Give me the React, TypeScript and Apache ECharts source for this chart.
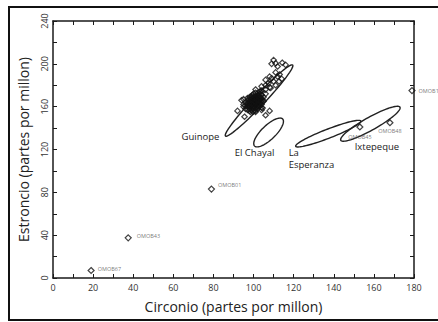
import React, { useEffect, useRef } from "react";
import * as echarts from "echarts";

const xTicks = [0, 20, 40, 60, 80, 100, 120, 140, 160, 180];
const yTicks = [0, 40, 80, 120, 160, 200, 240];

// Guinope cluster samples [circonio, estroncio]
const clusterPoints: number[][] = [
  [97, 160], [98, 162], [99, 161], [100, 163], [101, 162], [99, 165], [100, 166], [101, 165],
  [102, 167], [98, 164], [97, 163], [100, 160], [101, 159], [102, 161], [103, 163], [103, 166],
  [102, 164], [99, 168], [100, 169], [101, 170], [102, 171], [103, 169], [104, 168], [104, 171],
  [100, 158], [99, 157], [98, 158], [96, 161], [97, 166], [98, 167], [101, 167], [102, 158],
  [103, 160], [104, 162], [105, 165], [100, 172], [101, 173], [103, 174], [99, 170], [98, 169],
  [96, 164], [95, 162], [102, 169], [104, 165], [105, 169], [106, 172], [100, 164], [101, 161],
  [99, 163], [103, 172], [97, 168], [96, 158], [98, 156], [101, 156], [104, 159],
  [98.5, 160.5], [99.5, 159.5], [100.5, 161.5], [101.5, 163.5], [102.5, 165.5], [99.5, 166.5],
  [100.5, 167.5], [101.5, 168.5], [102.5, 170], [103.5, 167.5], [98.5, 165.5], [97.5, 161.5],
  [100, 162], [101, 164], [102, 166], [103, 168], [100.5, 165], [99, 162.5], [101.5, 160],
  [102.5, 162.5], [103.5, 164.5], [104.5, 166.5], [98, 160], [97.5, 164.5], [99.5, 171],
  [94, 166], [95, 167], [95, 160], [97, 157], [98.5, 155], [99.7, 155.3], [101, 155], [104, 157],
  [104.5, 158.7], [95.5, 150.6], [92, 156], [106, 152], [108, 156], [104, 175], [106, 176],
  [108, 178], [101, 176], [103.5, 174], [106, 180], [104, 179], [107.5, 182], [110, 183.5],
  [112.7, 183.5], [111, 180], [108.5, 177.5], [109, 186.5], [108, 188], [112, 188], [110, 203.5],
  [109, 200], [111, 200.5], [114.3, 201], [116, 199], [112, 197.5], [113, 190], [114, 186],
  [106, 185], [111, 192],
];

// Labeled samples
const sampleNames = ["OMOB67", "OMOB43", "OMOB01", "OMOB1", "OMOB45", "OMOB48"];
const sampleZr = [19, 37.5, 79, 179, 153, 168];
const sampleSr = [7, 37.5, 83, 175, 141, 145];

// Source ellipses: major axis end points (data) and minor/major ratio
const sourceNames = ["Guinope", "El Chayal", "La\nEsperanza", "Ixtepeque"];
const ellipseX1 = [86, 100.5, 121, 143.5];
const ellipseY1 = [132.6, 123.3, 123, 128.6];
const ellipseX2 = [119.5, 114.5, 153.5, 173];
const ellipseY2 = [198.9, 148.5, 146.6, 159.5];
const ellipseRatio = [0.11, 0.36, 0.13, 0.19];
// Label anchors (data)
const labelX = [73.5, 100.5, 117.5, 161.5];
const labelY = [131.8, 117, 111.2, 122.4];

const FONT = "'Open Sans', 'Noto Sans', sans-serif";

export default function App() {
  const ref = useRef<HTMLDivElement>(null);
  useEffect(() => {
    if (!ref.current) return;
    const chart = echarts.init(ref.current, undefined, { renderer: "svg" });

    const labelPos: Record<string, any> = {
      OMOB67: { position: "right", offset: [0, -2] },
      OMOB43: { position: "right", offset: [2, -2] },
      OMOB01: { position: "right", offset: [0, -4] },
      OMOB1: { position: "right", offset: [0, 0] },
      OMOB45: { position: "bottom", offset: [0, 0] },
      OMOB48: { position: "bottom", offset: [0, -1] },
    };

    const sampleData = sampleNames.map((n, i) => ({
      name: n,
      value: [sampleZr[i], sampleSr[i]],
      label: labelPos[n],
    }));

    const ellipseData = sourceNames.map((n, i) => [
      ellipseX1[i], ellipseY1[i], ellipseX2[i], ellipseY2[i], ellipseRatio[i],
    ]);
    const textData = sourceNames.map((n, i) => ({ name: n, value: [labelX[i], labelY[i]] }));

    const axisLine = { show: true, onZero: false, lineStyle: { color: "#1a1a1a", width: 1.5 } };
    const tickStyle = { color: "#1a1a1a", width: 1 };

    const option: any = {
      animation: false,
      backgroundColor: "#fff",
      grid: { left: 53, top: 21, right: 24, bottom: 44, containLabel: false },
      xAxis: [
        {
          type: "value",
          min: 0,
          max: 180,
          interval: 20,
          position: "bottom",
          name: "Circonio (partes por millon)",
          nameLocation: "middle",
          nameGap: 21,
          nameTextStyle: { fontSize: 14, color: "#222", fontFamily: FONT },
          axisLine,
          axisTick: { show: true, inside: true, length: 4, lineStyle: tickStyle },
          minorTick: { show: true, splitNumber: 2, length: 4, lineStyle: tickStyle },
          axisLabel: {
            margin: 5,
            fontSize: 9,
            color: "#333",
            fontFamily: FONT,
            formatter: (v: number) => (xTicks.includes(v) ? String(v) : ""),
          },
          splitLine: { show: false },
        },
        {
          type: "value",
          min: 0,
          max: 180,
          interval: 20,
          position: "top",
          axisLine,
          axisTick: { show: true, inside: true, length: 4, lineStyle: tickStyle },
          minorTick: { show: true, splitNumber: 2, length: 4, lineStyle: tickStyle },
          axisLabel: { show: false },
          splitLine: { show: false },
        },
      ],
      yAxis: [
        {
          type: "value",
          min: 0,
          max: 240,
          interval: 40,
          position: "left",
          name: "Estroncio (partes por millon)",
          nameLocation: "middle",
          nameGap: 23,
          nameTextStyle: { fontSize: 14, color: "#222", fontFamily: FONT },
          axisLine,
          axisTick: { show: true, inside: true, length: 4, lineStyle: tickStyle },
          minorTick: { show: true, splitNumber: 2, length: 4, lineStyle: tickStyle },
          axisLabel: {
            margin: 4,
            rotate: 90,
            fontSize: 9,
            color: "#333",
            fontFamily: FONT,
            formatter: (v: number) => (yTicks.includes(v) ? String(v) : ""),
          },
          splitLine: { show: false },
        },
        {
          type: "value",
          min: 0,
          max: 240,
          interval: 40,
          position: "right",
          axisLine,
          axisTick: { show: true, inside: true, length: 4, lineStyle: tickStyle },
          minorTick: { show: true, splitNumber: 2, length: 4, lineStyle: tickStyle },
          axisLabel: { show: false },
          splitLine: { show: false },
        },
      ],
      graphic: [
        {
          type: "rect",
          shape: { x: 9, y: 7, width: 440, height: 313 },
          style: { fill: "none", stroke: "#111", lineWidth: 2 },
          silent: true,
        },
      ],
      series: [
        {
          type: "custom",
          coordinateSystem: "cartesian2d",
          xAxisIndex: 0,
          yAxisIndex: 0,
          data: ellipseData,
          encode: { x: [0, 2], y: [1, 3] },
          renderItem: (params: any, api: any) => {
            const p1 = api.coord([api.value(0), api.value(1)]);
            const p2 = api.coord([api.value(2), api.value(3)]);
            const ratio = api.value(4);
            const cx = (p1[0] + p2[0]) / 2;
            const cy = (p1[1] + p2[1]) / 2;
            const dx = p2[0] - p1[0];
            const dy = p2[1] - p1[1];
            const a = Math.sqrt(dx * dx + dy * dy) / 2;
            const b = a * ratio;
            const ang = Math.atan2(dy, dx);
            const pts: number[][] = [];
            for (let k = 0; k < 90; k++) {
              const t = (k / 90) * Math.PI * 2;
              const ex = a * Math.cos(t);
              const ey = b * Math.sin(t);
              pts.push([
                cx + ex * Math.cos(ang) - ey * Math.sin(ang),
                cy + ex * Math.sin(ang) + ey * Math.cos(ang),
              ]);
            }
            return {
              type: "polygon",
              shape: { points: pts },
              style: { fill: "none", stroke: "#222", lineWidth: 1.4 },
            };
          },
          silent: true,
          z: 2,
        },
        {
          type: "custom",
          coordinateSystem: "cartesian2d",
          data: textData,
          renderItem: (params: any, api: any) => {
            const p = api.coord([api.value(0), api.value(1)]);
            const name = sourceNames[params.dataIndex];
            const isLa = name.indexOf("\n") >= 0;
            return {
              type: "text",
              x: p[0],
              y: p[1],
              style: {
                text: name,
                fill: "#222",
                fontSize: 9.5,
                fontFamily: FONT,
                lineHeight: 12,
                align: isLa ? "left" : "center",
                verticalAlign: "middle",
              },
            };
          },
          silent: true,
          z: 3,
        },
        {
          type: "scatter",
          data: clusterPoints,
          symbol: "diamond",
          symbolSize: 5.5,
          itemStyle: { color: "rgba(0,0,0,0)", borderColor: "#111", borderWidth: 1.2 },
          z: 4,
        },
        {
          type: "scatter",
          data: sampleData,
          symbol: "diamond",
          symbolSize: 6,
          itemStyle: { color: "rgba(0,0,0,0)", borderColor: "#111", borderWidth: 1.2 },
          label: {
            show: true,
            formatter: (p: any) => p.name,
            fontSize: 5.5,
            color: "#555",
            fontFamily: FONT,
            distance: 3,
          },
          z: 5,
        },
      ],
    };
    chart.setOption(option);
    return () => chart.dispose();
  }, []);
  return (
    <div
      ref={ref}
      style={{ position: "fixed", left: 0, top: 0, width: 438, height: 322 }}
    />
  );
}
